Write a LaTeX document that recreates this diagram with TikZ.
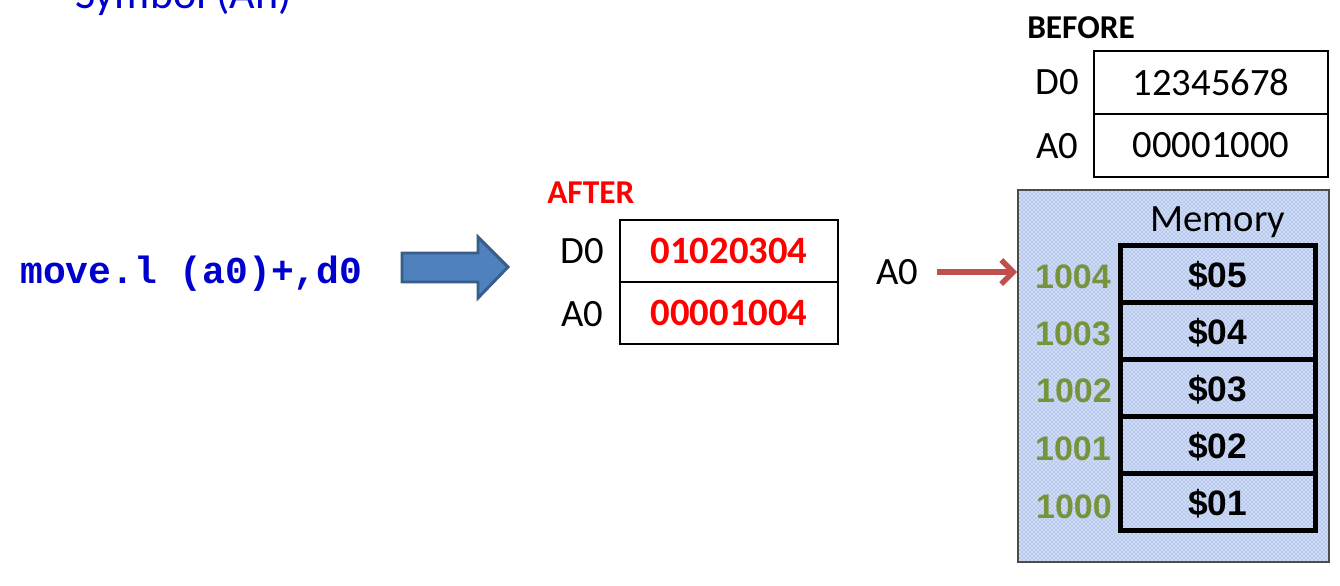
\documentclass[tikz,border=0pt]{standalone}
\usepackage{xcolor}
\usepackage{fontspec}
\setmainfont{Carlito}
\newfontfamily\arialfont{Liberation Sans}
\newfontfamily\codefont{Liberation Mono}
\usepackage{tikz}
\usetikzlibrary{calc}
\usetikzlibrary{arrows.meta}
\usetikzlibrary{patterns}
\usetikzlibrary{positioning}
\tikzset{>=latex}
\definecolor{codeblue}{RGB}{0,0,204}
\definecolor{afterred}{RGB}{255,0,0}
\definecolor{arrowblue}{RGB}{79,129,189}
\definecolor{arrowedge}{RGB}{56,93,138}
\definecolor{ptrred}{RGB}{192,80,77}
\definecolor{addrgreen}{RGB}{119,147,60}
\definecolor{memfill}{RGB}{208,220,244}
\definecolor{memdots}{RGB}{100,140,220}
\newcommand{\regfont}{\fontsize{29}{34}\selectfont}
\newcommand{\headfont}{\bfseries\fontsize{25}{30}\selectfont}
\newcommand{\cellfont}{\arialfont\bfseries\fontsize{26.5}{30}\selectfont}
\newcommand{\addrfont}{\arialfont\bfseries\fontsize{25.5}{30}\selectfont}
\tikzstyle{reglabel} = [draw=none, inner sep=0, font=\regfont]
\tikzstyle{afterbox} = [rectangle, draw=black, line width=0.8pt, inner sep=0, outer sep=0, minimum width=163.5pt, minimum height=46.5pt, font=\regfont]
\tikzstyle{beforebox} = [afterbox, minimum width=175.5pt, minimum height=47.25pt]
\tikzstyle{memcell} = [rectangle, draw=black, line width=3.75pt, inner sep=0, outer sep=0, minimum width=146.25pt, minimum height=42.75pt, text height=23pt, font=\cellfont]
\tikzstyle{addr} = [draw=none, inner sep=0, anchor=east, text=addrgreen, font=\addrfont]

\begin{document}
\begin{tikzpicture}[x=0.75pt, y=-0.75pt]
\useasboundingbox (0,0) rectangle (1340,586);
\node [draw=none, inner sep=0, anchor=base west, text=codeblue, font=\fontsize{33}{40}\selectfont] (symb) at (75, 8.5) {Symbol (An)};
\node [draw=none, inner sep=0, anchor=west, text=codeblue, font=\codefont\bfseries\fontsize{28.5}{34}\selectfont] (code) at (20, 274) {move.l (a0)+,d0};
% block arrow
\draw [line width=2.2pt, draw=arrowedge, fill=arrowblue, line join=miter] (402,253) -- (478,253) -- (478,237) -- (508,267) -- (478,298) -- (478,282) -- (402,282) -- cycle;
% after
\node [draw=none, inner sep=0, anchor=west, text=afterred, font=\headfont] (after) at (547, 193) {AFTER};
\node [afterbox, text=afterred, font=\regfont\bfseries] (ad0) at (729, 251) {01020304};
\node [afterbox, text=afterred, font=\regfont\bfseries] (aa0) at (729, 313) {00001004};
\node [reglabel] (ad0l) at (582, 251) {D0};
\node [reglabel] (aa0l) at (582, 314) {A0};
% before
\node [draw=none, inner sep=0, anchor=west, font=\headfont] (before) at (1027, 28) {BEFORE};
\node [beforebox] (bd0) at (1211, 82.5) {12345678};
\node [beforebox] (ba0) at (1211, 145.5) {00001000};
\node [reglabel] (bd0l) at (1057, 82.5) {D0};
\node [reglabel] (ba0l) at (1057, 146) {A0};
% memory
\node [rectangle, draw=black!70, line width=1.2pt, inner sep=0, minimum width=233.25pt, minimum height=279pt, preaction={fill=memfill}, pattern=crosshatch dots, pattern color=memdots] (mem) at (1173.5, 376) {};
\node [draw=none, inner sep=0, font=\regfont] (memlbl) at (1218, 222) {Memory};
\node [memcell] (m4) at (1217.5, 273.5) {\$05};
\node [memcell] (m3) at (1217.5, 330.5) {\$04};
\node [memcell] (m2) at (1217.5, 387.5) {\$03};
\node [memcell] (m1) at (1217.5, 444.5) {\$02};
\node [memcell] (m0) at (1217.5, 501.5) {\$01};
\node [addr] (ad4) at (1111, 277) {1004};
\node [addr] (ad3) at (1111, 334) {1003};
\node [addr] (ad2) at (1112, 391) {1002};
\node [addr] (ad1) at (1111, 449) {1001};
\node [addr] (ad0) at (1112, 507) {1000};
% pointer
\node [reglabel] (ptr) at (897, 272) {A0};
\draw [-{Straight Barb[length=9pt, width=18pt]}, line width=4.2pt, ptrred, shorten <=14pt] (ptr.east) -- (ptr.east -| mem.west);
\end{tikzpicture}
\end{document}
